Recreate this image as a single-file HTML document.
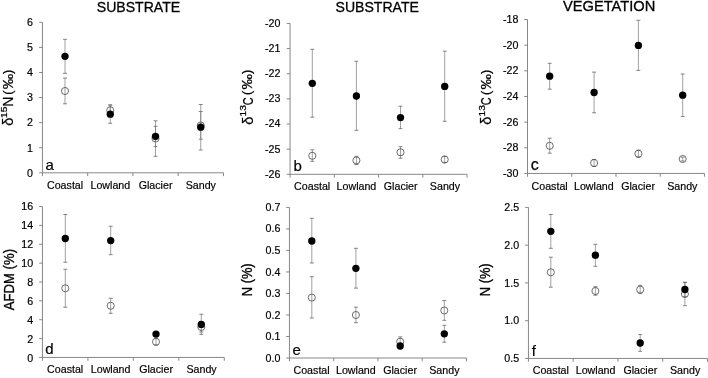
<!DOCTYPE html>
<html lang="en"><head><meta charset="utf-8"><title>Figure</title>
<style>
html,body{margin:0;padding:0;background:#fff;}
body{width:708px;height:378px;overflow:hidden;}
svg{display:block;font-family:"Liberation Sans", Arial, sans-serif;}
.title text{font-size:14.9px;fill:#000;stroke:#000;stroke-width:0.3;}
.ylab text{font-size:14.6px;fill:#000;stroke:#000;stroke-width:0.25;}
.ylab text.sup{font-size:8.4px;}
.ylab text.dl{font-size:14.6px;}
.ylab text.par{font-size:13px;}
.ylab2{font-size:13.33px;fill:#000;stroke:#000;stroke-width:0.3;}
.tl text{font-size:10.67px;fill:#000;stroke:#000;stroke-width:0.18;}
.let{font-size:15px;fill:#000;stroke:#000;stroke-width:0.2;}
.letb{font-size:16px;fill:#000;stroke:#000;stroke-width:0.25;}
.axis{fill:none;stroke:#7a7a7a;stroke-width:0.9;}
.eb{fill:none;stroke:#7c7c7c;stroke-width:0.72;}
.cp{fill:none;stroke:#666;stroke-width:0.8;}
.oc{fill:none;stroke:#4a4a4a;stroke-width:0.8;}
.fc{fill:#000;stroke:none;}
</style></head><body>
<svg width="708" height="378" viewBox="0 0 708 378">
<rect width="708" height="378" fill="#fff"/>
<g class="title">
<text x="96.8" y="11.6" textLength="83.4" lengthAdjust="spacingAndGlyphs">SUBSTRATE</text>
<text x="335.5" y="11.5" textLength="83.4" lengthAdjust="spacingAndGlyphs">SUBSTRATE</text>
<text x="563.0" y="11.2" textLength="92.3" lengthAdjust="spacingAndGlyphs">VEGETATION</text>
</g>
<g class="ylab" transform="translate(13.3 125.3) rotate(-90)"><text class="dl" x="-0.4" y="0">δ</text><text class="sup" transform="translate(7.4 -6.5) scale(1.22 1)">15</text><text transform="translate(18.6 0) scale(0.96 1)">N</text><text class="par" x="30.5" y="-1.4">(</text><text transform="translate(36.0 -0.3) scale(1.06 1)">‰</text><text class="par" x="51.4" y="-1.4">)</text></g>
<g class="ylab" transform="translate(252.6 124.3) rotate(-90)"><text class="dl" x="-0.4" y="0">δ</text><text class="sup" transform="translate(7.8 -6.5) scale(1.22 1)">13</text><text transform="translate(19.1 0) scale(0.75 1)">C</text><text class="par" x="29.4" y="-1.4">(</text><text transform="translate(34.9 -0.3) scale(1.06 1)">‰</text><text class="par" x="50.3" y="-1.4">)</text></g>
<g class="ylab" transform="translate(491.3 124.3) rotate(-90)"><text class="dl" x="-0.4" y="0">δ</text><text class="sup" transform="translate(7.8 -6.5) scale(1.22 1)">13</text><text transform="translate(19.1 0) scale(0.75 1)">C</text><text class="par" x="29.4" y="-1.4">(</text><text transform="translate(34.9 -0.3) scale(1.06 1)">‰</text><text class="par" x="50.3" y="-1.4">)</text></g>
<text class="ylab2" transform="translate(13.5 310.3) rotate(-90) scale(0.988 1.06)">AFDM (%)</text>
<text class="ylab2" transform="translate(251.6 296.2) rotate(-90) scale(0.965 1.06)">N (%)</text>
<text class="ylab2" transform="translate(489.9 296.2) rotate(-90) scale(0.965 1.06)">N (%)</text>
<path class="axis" d="M42.45 22.3V172.8M42.45 172.8H223.45M39.15 22.30H42.45M39.15 47.38H42.45M39.15 72.47H42.45M39.15 97.55H42.45M39.15 122.63H42.45M39.15 147.72H42.45M39.15 172.80H42.45M42.45 172.8V176.10M87.70 172.8V176.10M132.95 172.8V176.10M178.20 172.8V176.10M223.45 172.8V176.10"/>
<g class="tl" text-anchor="end">
<text x="32.9" y="25.75">6</text>
<text x="32.9" y="50.90">5</text>
<text x="32.9" y="76.05">4</text>
<text x="32.9" y="101.20">3</text>
<text x="32.9" y="126.35">2</text>
<text x="32.9" y="151.50">1</text>
<text x="32.9" y="176.65">0</text>
</g>
<g class="tl" text-anchor="middle">
<text x="65.08" y="188.8">Coastal</text>
<text x="110.33" y="188.8">Lowland</text>
<text x="155.57" y="188.8">Glacier</text>
<text x="200.82" y="188.8">Sandy</text>
</g>
<text class="let" x="45.6" y="169.7">a</text>
<path class="eb" d="M65 78V103.8M110.25 105.8V114.8M155.5 120.8V156.3M200.75 111.5V139.2"/><path class="cp" d="M63.05 78h3.9M63.05 103.8h3.9M108.30 105.8h3.9M108.30 114.8h3.9M153.55 120.8h3.9M153.55 156.3h3.9M198.80 111.5h3.9M198.80 139.2h3.9"/>
<circle class="oc" cx="65" cy="91" r="3.55"/>
<circle class="oc" cx="110.25" cy="110.3" r="3.55"/>
<circle class="oc" cx="155.5" cy="138.5" r="3.55"/>
<circle class="oc" cx="200.75" cy="125.5" r="3.55"/>
<path class="eb" d="M65 39.3V73.3M110.25 104.7V123.3M155.5 126.3V146.6M200.75 104.5V150"/><path class="cp" d="M63.05 39.3h3.9M63.05 73.3h3.9M108.30 104.7h3.9M108.30 123.3h3.9M153.55 126.3h3.9M153.55 146.6h3.9M198.80 104.5h3.9M198.80 150h3.9"/>
<circle class="fc" cx="65" cy="56.3" r="3.67"/>
<circle class="fc" cx="110.25" cy="114.2" r="3.67"/>
<circle class="fc" cx="155.5" cy="136.3" r="3.67"/>
<circle class="fc" cx="200.75" cy="127.2" r="3.67"/>
<path class="axis" d="M290.05 23.45V174.3M290.05 174.3H467.09000000000003M286.75 23.45H290.05M286.75 48.59H290.05M286.75 73.73H290.05M286.75 98.88H290.05M286.75 124.02H290.05M286.75 149.16H290.05M286.75 174.30H290.05M290.05 174.3V177.60M334.31 174.3V177.60M378.57 174.3V177.60M422.83 174.3V177.60M467.09 174.3V177.60"/>
<g class="tl" text-anchor="end">
<text x="280.4" y="26.90">-20</text>
<text x="280.4" y="52.04">-21</text>
<text x="280.4" y="77.18">-22</text>
<text x="280.4" y="102.33">-23</text>
<text x="280.4" y="127.47">-24</text>
<text x="280.4" y="152.61">-25</text>
<text x="280.4" y="177.75">-26</text>
</g>
<g class="tl" text-anchor="middle">
<text x="312.18" y="189.7">Coastal</text>
<text x="356.44" y="189.7">Lowland</text>
<text x="400.70" y="189.7">Glacier</text>
<text x="444.96" y="189.7">Sandy</text>
</g>
<text class="let" x="293.6" y="170.7">b</text>
<path class="eb" d="M312.3 149.8V161.3M356.4 156.3V164.5M400.5 146.7V158.3M444.7 156.3V162.7"/><path class="cp" d="M310.35 149.8h3.9M310.35 161.3h3.9M354.45 156.3h3.9M354.45 164.5h3.9M398.55 146.7h3.9M398.55 158.3h3.9M442.75 156.3h3.9M442.75 162.7h3.9"/>
<circle class="oc" cx="312.3" cy="155.8" r="3.55"/>
<circle class="oc" cx="356.4" cy="160.4" r="3.55"/>
<circle class="oc" cx="400.5" cy="152.3" r="3.55"/>
<circle class="oc" cx="444.7" cy="159.5" r="3.55"/>
<path class="eb" d="M312.3 49.3V117.2M356.4 61.3V130.3M400.5 106.2V128.7M444.7 51.2V121.3"/><path class="cp" d="M310.35 49.3h3.9M310.35 117.2h3.9M354.45 61.3h3.9M354.45 130.3h3.9M398.55 106.2h3.9M398.55 128.7h3.9M442.75 51.2h3.9M442.75 121.3h3.9"/>
<circle class="fc" cx="312.3" cy="83.3" r="3.67"/>
<circle class="fc" cx="356.4" cy="96" r="3.67"/>
<circle class="fc" cx="400.5" cy="117.6" r="3.67"/>
<circle class="fc" cx="444.7" cy="86.4" r="3.67"/>
<path class="axis" d="M527.5 19.5V173.45M527.5 173.45H704.46M524.20 19.50H527.5M524.20 45.16H527.5M524.20 70.82H527.5M524.20 96.47H527.5M524.20 122.13H527.5M524.20 147.79H527.5M524.20 173.45H527.5M527.50 173.45V176.75M571.74 173.45V176.75M615.98 173.45V176.75M660.22 173.45V176.75M704.46 173.45V176.75"/>
<g class="tl" text-anchor="end">
<text x="518.4" y="22.95">-18</text>
<text x="518.4" y="48.64">-20</text>
<text x="518.4" y="74.33">-22</text>
<text x="518.4" y="100.02">-24</text>
<text x="518.4" y="125.72">-26</text>
<text x="518.4" y="151.41">-28</text>
<text x="518.4" y="177.10">-30</text>
</g>
<g class="tl" text-anchor="middle">
<text x="549.62" y="189.5">Coastal</text>
<text x="593.86" y="189.5">Lowland</text>
<text x="638.10" y="189.5">Glacier</text>
<text x="682.34" y="189.5">Sandy</text>
</g>
<text class="letb" x="530.8" y="169.9">c</text>
<path class="eb" d="M549.7 138.2V153.2M594.1 159.5V166.5M638.4 150.2V157.3M682.7 157.2V161"/><path class="cp" d="M547.75 138.2h3.9M547.75 153.2h3.9M592.15 159.5h3.9M592.15 166.5h3.9M636.45 150.2h3.9M636.45 157.3h3.9M680.75 157.2h3.9M680.75 161h3.9"/>
<circle class="oc" cx="549.7" cy="145.8" r="3.55"/>
<circle class="oc" cx="594.1" cy="163" r="3.55"/>
<circle class="oc" cx="638.4" cy="153.7" r="3.55"/>
<circle class="oc" cx="682.7" cy="159" r="3.55"/>
<path class="eb" d="M549.7 63.3V89.2M594.1 72.1V112.8M638.4 20.3V70.4M682.7 74V116.4"/><path class="cp" d="M547.75 63.3h3.9M547.75 89.2h3.9M592.15 72.1h3.9M592.15 112.8h3.9M636.45 20.3h3.9M636.45 70.4h3.9M680.75 74h3.9M680.75 116.4h3.9"/>
<circle class="fc" cx="549.7" cy="76.2" r="3.67"/>
<circle class="fc" cx="594.1" cy="92.5" r="3.67"/>
<circle class="fc" cx="638.4" cy="45.4" r="3.67"/>
<circle class="fc" cx="682.7" cy="95.2" r="3.67"/>
<path class="axis" d="M42.45 206.5V357.45M42.45 357.45H224.29000000000002M39.15 206.50H42.45M39.15 225.37H42.45M39.15 244.24H42.45M39.15 263.11H42.45M39.15 281.98H42.45M39.15 300.84H42.45M39.15 319.71H42.45M39.15 338.58H42.45M39.15 357.45H42.45M42.45 357.45V360.75M87.91 357.45V360.75M133.37 357.45V360.75M178.83 357.45V360.75M224.29 357.45V360.75"/>
<g class="tl" text-anchor="end">
<text x="33.2" y="209.95">16</text>
<text x="33.2" y="228.89">14</text>
<text x="33.2" y="247.84">12</text>
<text x="33.2" y="266.78">10</text>
<text x="33.2" y="285.73">8</text>
<text x="33.2" y="304.67">6</text>
<text x="33.2" y="323.61">4</text>
<text x="33.2" y="342.56">2</text>
<text x="33.2" y="361.50">0</text>
</g>
<g class="tl" text-anchor="middle">
<text x="65.18" y="373.3">Coastal</text>
<text x="110.64" y="373.3">Lowland</text>
<text x="156.10" y="373.3">Glacier</text>
<text x="201.56" y="373.3">Sandy</text>
</g>
<text class="let" x="45.2" y="353.8">d</text>
<path class="eb" d="M65.3 269.3V307.2M110.7 298.3V313.3M156 338.5V345.1M201.3 322V332"/><path class="cp" d="M63.35 269.3h3.9M63.35 307.2h3.9M108.75 298.3h3.9M108.75 313.3h3.9M154.05 338.5h3.9M154.05 345.1h3.9M199.35 322h3.9M199.35 332h3.9"/>
<circle class="oc" cx="65.3" cy="288.3" r="3.55"/>
<circle class="oc" cx="110.7" cy="305.8" r="3.55"/>
<circle class="oc" cx="156" cy="341.8" r="3.55"/>
<circle class="oc" cx="201.3" cy="327" r="3.55"/>
<path class="eb" d="M65.3 214.5V262.2M110.7 226.3V254.7M201.3 314.3V334.4"/><path class="cp" d="M63.35 214.5h3.9M63.35 262.2h3.9M108.75 226.3h3.9M108.75 254.7h3.9M199.35 314.3h3.9M199.35 334.4h3.9"/>
<circle class="fc" cx="65.3" cy="238.5" r="3.67"/>
<circle class="fc" cx="110.7" cy="240.6" r="3.67"/>
<circle class="fc" cx="156" cy="334.1" r="3.67"/>
<circle class="fc" cx="201.3" cy="324.4" r="3.67"/>
<path class="axis" d="M289.45 207.4V358.0M289.45 358.0H466.49M286.15 207.40H289.45M286.15 228.91H289.45M286.15 250.43H289.45M286.15 271.94H289.45M286.15 293.46H289.45M286.15 314.97H289.45M286.15 336.49H289.45M286.15 358.00H289.45M289.45 358.0V361.30M333.71 358.0V361.30M377.97 358.0V361.30M422.23 358.0V361.30M466.49 358.0V361.30"/>
<g class="tl" text-anchor="end">
<text x="280.4" y="210.85">0.7</text>
<text x="280.4" y="232.45">0.6</text>
<text x="280.4" y="254.05">0.5</text>
<text x="280.4" y="275.65">0.4</text>
<text x="280.4" y="297.25">0.3</text>
<text x="280.4" y="318.85">0.2</text>
<text x="280.4" y="340.45">0.1</text>
<text x="280.4" y="362.05">0.0</text>
</g>
<g class="tl" text-anchor="middle">
<text x="311.58" y="373.7">Coastal</text>
<text x="355.84" y="373.7">Lowland</text>
<text x="400.10" y="373.7">Glacier</text>
<text x="444.36" y="373.7">Sandy</text>
</g>
<text class="let" x="292.6" y="354.8">e</text>
<path class="eb" d="M311.8 276.7V318M355.9 307.2V322.7M400.2 336.9V346.5M444.3 300.5V320.3"/><path class="cp" d="M309.85 276.7h3.9M309.85 318h3.9M353.95 307.2h3.9M353.95 322.7h3.9M398.25 336.9h3.9M398.25 346.5h3.9M442.35 300.5h3.9M442.35 320.3h3.9"/>
<circle class="oc" cx="311.8" cy="297.6" r="3.55"/>
<circle class="oc" cx="355.9" cy="315" r="3.55"/>
<circle class="oc" cx="400.2" cy="341.7" r="3.55"/>
<circle class="oc" cx="444.3" cy="310.5" r="3.55"/>
<path class="eb" d="M311.8 218.3V263M355.9 248.3V288.1M444.3 325.3V342.2"/><path class="cp" d="M309.85 218.3h3.9M309.85 263h3.9M353.95 248.3h3.9M353.95 288.1h3.9M442.35 325.3h3.9M442.35 342.2h3.9"/>
<circle class="fc" cx="311.8" cy="241" r="3.67"/>
<circle class="fc" cx="355.9" cy="268.3" r="3.67"/>
<circle class="fc" cx="400.2" cy="346" r="3.67"/>
<circle class="fc" cx="444.3" cy="333.8" r="3.67"/>
<path class="axis" d="M528.45 207.4V358.45M528.45 358.45H707.49M525.15 207.40H528.45M525.15 245.16H528.45M525.15 282.93H528.45M525.15 320.69H528.45M525.15 358.45H528.45M528.45 358.45V361.75M573.21 358.45V361.75M617.97 358.45V361.75M662.73 358.45V361.75M707.49 358.45V361.75"/>
<g class="tl" text-anchor="end">
<text x="519.1" y="210.85">2.5</text>
<text x="519.1" y="248.71">2.0</text>
<text x="519.1" y="286.57">1.5</text>
<text x="519.1" y="324.44">1.0</text>
<text x="519.1" y="362.30">0.5</text>
</g>
<g class="tl" text-anchor="middle">
<text x="550.83" y="373.7">Coastal</text>
<text x="595.59" y="373.7">Lowland</text>
<text x="640.35" y="373.7">Glacier</text>
<text x="685.11" y="373.7">Sandy</text>
</g>
<text class="let" x="531.8" y="355.6">f</text>
<path class="eb" d="M550.8 257.2V287.2M595.4 286.7V295.2M640.2 285.4V293.7M684.9 282.3V305.7"/><path class="cp" d="M548.85 257.2h3.9M548.85 287.2h3.9M593.45 286.7h3.9M593.45 295.2h3.9M638.25 285.4h3.9M638.25 293.7h3.9M682.95 282.3h3.9M682.95 305.7h3.9"/>
<circle class="oc" cx="550.8" cy="272.3" r="3.55"/>
<circle class="oc" cx="595.4" cy="291" r="3.55"/>
<circle class="oc" cx="640.2" cy="289.6" r="3.55"/>
<circle class="oc" cx="684.9" cy="294" r="3.55"/>
<path class="eb" d="M550.8 214.5V248.3M595.4 244.3V266.3M640.2 334.5V351.3M684.9 282.4V296.6"/><path class="cp" d="M548.85 214.5h3.9M548.85 248.3h3.9M593.45 244.3h3.9M593.45 266.3h3.9M638.25 334.5h3.9M638.25 351.3h3.9M682.95 282.4h3.9M682.95 296.6h3.9"/>
<circle class="fc" cx="550.8" cy="231.3" r="3.67"/>
<circle class="fc" cx="595.4" cy="255.2" r="3.67"/>
<circle class="fc" cx="640.2" cy="343" r="3.67"/>
<circle class="fc" cx="684.9" cy="289.5" r="3.67"/>
</svg>
</body></html>
